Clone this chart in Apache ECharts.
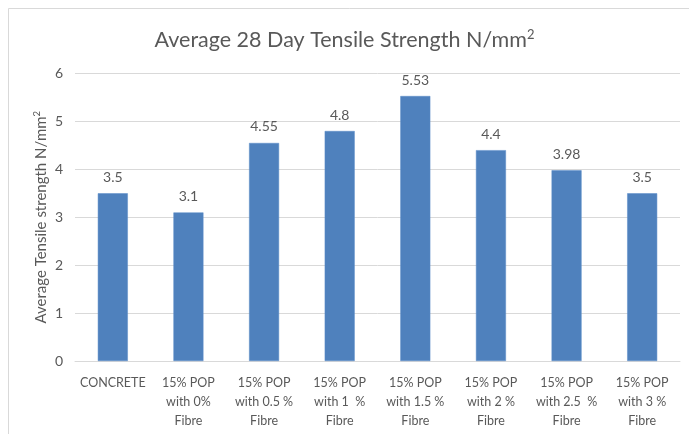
<!DOCTYPE html>
<html>
<head>
<meta charset="utf-8">
<script src="https://cdn.jsdelivr.net/npm/echarts@6/dist/echarts.min.js"></script>
<style>
  html, body { margin: 0; padding: 0; background: #fff; }
  #chart { width: 689px; height: 434px; }
</style>
</head>
<body>
<div id="chart"></div>
<script>
// Mix categories, average 28-day tensile strength (N/mm²) and y-axis ticks
const categories = [
  'CONCRETE',
  '15% POP\nwith 0%\nFibre',
  '15% POP\nwith 0.5 %\nFibre',
  '15% POP\nwith 1  %\nFibre',
  '15% POP\nwith 1.5 %\nFibre',
  '15% POP\nwith 2 %\nFibre',
  '15% POP\nwith 2.5  %\nFibre',
  '15% POP\nwith 3 %\nFibre'
];
const strength = [3.5, 3.1, 4.55, 4.8, 5.53, 4.4, 3.98, 3.5];
const yTicks = [0, 1, 2, 3, 4, 5, 6];

const FONT = 'Lato, "Open Sans", sans-serif';
const TEXT = '#595959';

const chart = echarts.init(document.getElementById('chart'), null, { renderer: 'canvas' });

chart.setOption({
  animation: false,
  backgroundColor: '#fff',
  textStyle: { fontFamily: FONT },
  graphic: [{
    type: 'rect',
    shape: { x: 8.5, y: 8.5, width: 700, height: 440 },
    style: { fill: 'none', stroke: '#d9d9d9', lineWidth: 1 },
    silent: true
  }],
  title: {
    text: '{t|Average 28 Day Tensile Strength N/mm}{s|2}',
    left: 'center',
    top: 23,
    textStyle: {
      fontWeight: 'normal',
      rich: {
        t: { fontFamily: FONT, fontSize: 21.5, fontWeight: 'normal', color: TEXT, verticalAlign: 'bottom' },
        s: { fontFamily: FONT, fontSize: 13, fontWeight: 'normal', color: TEXT, verticalAlign: 'top', padding: [0, 0, 10, 0] }
      }
    }
  },
  grid: { left: 75, right: 9, top: 73.5, bottom: 73, containLabel: false },
  xAxis: {
    type: 'category',
    data: categories,
    axisLine: { show: true, lineStyle: { color: '#d9d9d9' } },
    axisTick: { show: false },
    axisLabel: {
      interval: 0,
      color: TEXT,
      fontFamily: FONT,
      fontSize: 12.5,
      lineHeight: 19,
      margin: 12
    }
  },
  yAxis: {
    type: 'value',
    min: yTicks[0],
    max: yTicks[yTicks.length - 1],
    interval: 1,
    name: '{t|Average Tensile strength N/mm}{s|2}',
    nameLocation: 'middle',
    nameRotate: 90,
    nameGap: 25,
    nameMoveOverlap: false,
    nameTextStyle: {
      rich: {
        t: { fontFamily: FONT, fontSize: 15, color: TEXT },
        s: { fontFamily: FONT, fontSize: 9.5, color: TEXT, verticalAlign: 'top', padding: [0, 0, 8, 0] }
      }
    },
    axisLine: { show: false },
    axisTick: { show: false },
    splitLine: { lineStyle: { color: '#d9d9d9', width: 1 } },
    axisLabel: {
      color: TEXT,
      fontFamily: FONT,
      fontSize: 14,
      margin: 12,
      formatter: v => (yTicks.includes(v) ? String(v) : '')
    }
  },
  series: [{
    type: 'bar',
    data: strength,
    barWidth: 30,
    itemStyle: { color: '#4f81bd', borderColor: '#5b8dc8', borderWidth: 0.5 },
    label: {
      show: true,
      position: 'top',
      distance: 9,
      color: TEXT,
      fontFamily: FONT,
      fontSize: 14,
      formatter: p => String(p.value)
    }
  }]
});
</script>
</body>
</html>
